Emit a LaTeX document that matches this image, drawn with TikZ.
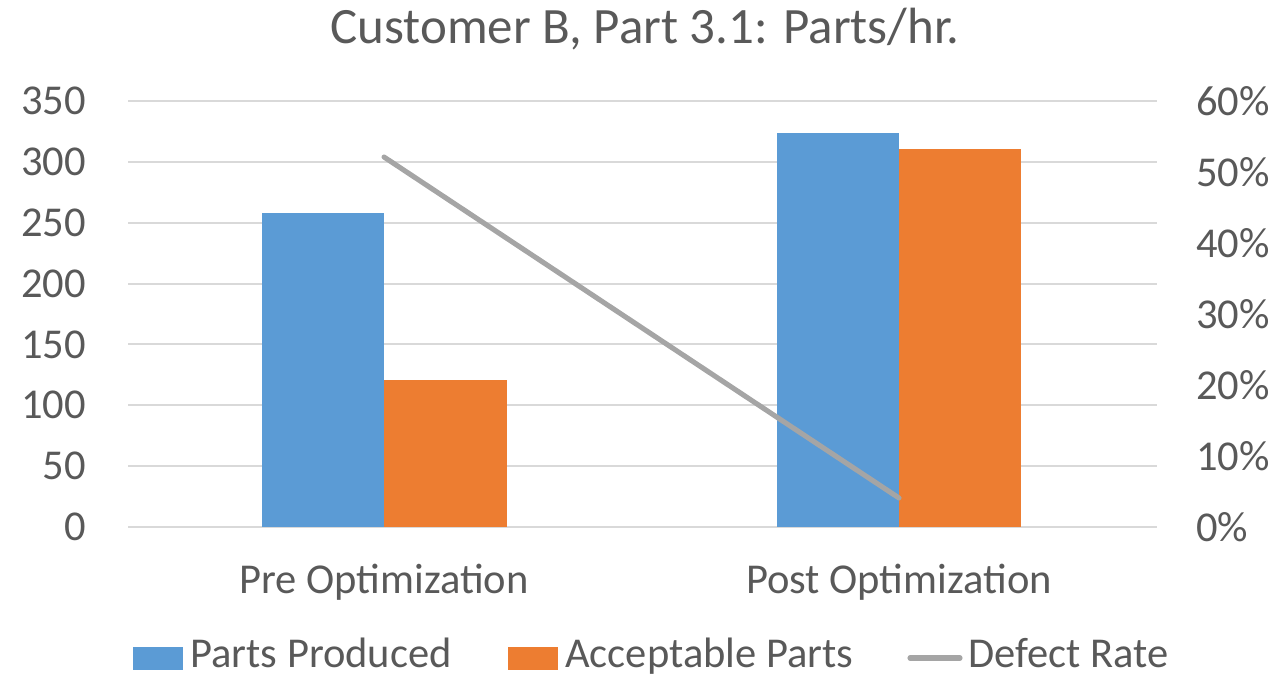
\documentclass[tikz,border=0pt]{standalone}
\usepackage{fontspec}
\setmainfont{Carlito}
\usetikzlibrary{positioning}
\definecolor{barblue}{HTML}{5B9BD5}
\definecolor{barorange}{HTML}{ED7D31}
\definecolor{linegray}{HTML}{A5A5A5}
\definecolor{gridgray}{HTML}{D9D9D9}
\definecolor{txtgray}{HTML}{595959}

\begin{document}
\begin{tikzpicture}[x=0.02cm,y=-0.02cm]
  \tikzstyle{grid}=[draw=gridgray, line width=1.2pt]
  \tikzstyle{lbl}=[text=txtgray, font=\fontsize{24.2}{28}\selectfont, inner sep=0pt]
  \tikzstyle{ttl}=[text=txtgray, font=\fontsize{29}{33}\selectfont, inner sep=0pt]
  \tikzstyle{rate}=[draw=linegray, line width=2.9pt, line cap=round]
  \useasboundingbox (0,0) rectangle (1286,676);
  % gridlines and both axes
  \foreach \v [count=\i from 0] in {0,50,...,350} {
    \draw[grid] (128,{527-\i*60.857}) -- (1157,{527-\i*60.857});
    \node[lbl, anchor=east] (yl\i) at (86,{527-\i*60.857}) {\v};
  }
  \foreach \p [count=\i from 0] in {0,10,...,60}
    \node[lbl, anchor=west] (yr\i) at (1196,{527-\i*71}) {\p\%};
  % bars
  \fill[barblue]   (262,527) rectangle (384,213);
  \fill[barorange] (384,527) rectangle (507,380);
  \fill[barblue]   (777,527) rectangle (899,133);
  \fill[barorange] (899,527) rectangle (1021,149);
  % defect rate
  \coordinate (pre) at (384,157);
  \coordinate (post) at (899,498);
  \draw[rate] (pre) -- (post);
  % title and categories
  \node[ttl] (title) at (645,29) {Customer B, Part 3.1: Parts/hr.};
  \node[lbl] (catpre) at (384,582) {Pre Optimization};
  \node[lbl] (catpost) at (899,582) {Post Optimization};
  % legend
  \fill[barblue] (133,647) rectangle (183,670);
  \node[lbl, anchor=base west] (legpp) at (190,667) {Parts Produced};
  \fill[barorange] (508,647) rectangle (558,670);
  \node[lbl, anchor=base west] (legap) at (565,667) {Acceptable Parts};
  \coordinate (la) at (910,658);
  \coordinate (lb) at (960,658);
  \draw[rate] (la) -- (lb);
  \node[lbl, anchor=base west] (legdr) at (968,667) {Defect Rate};
\end{tikzpicture}
\end{document}
